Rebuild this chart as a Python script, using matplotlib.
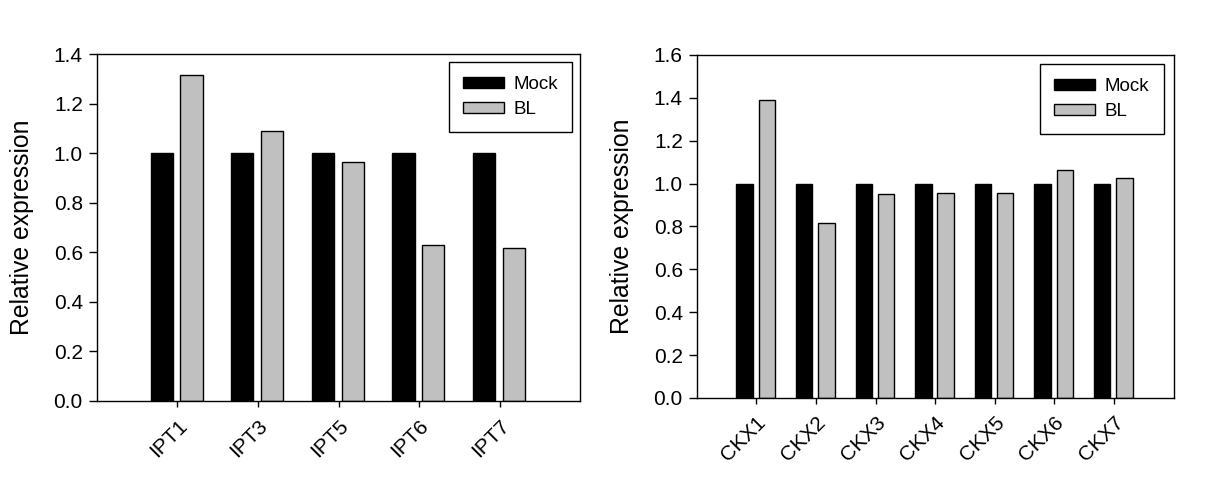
import numpy as np
import matplotlib.pyplot as plt

plt.rcParams['font.family'] = ['Liberation Sans', 'DejaVu Sans']

ipt_genes = ['IPT1', 'IPT3', 'IPT5', 'IPT6', 'IPT7']
ipt_mock = [1.0, 1.0, 1.0, 1.0, 1.0]
ipt_bl = [1.315, 1.088, 0.963, 0.629, 0.617]

ckx_genes = ['CKX1', 'CKX2', 'CKX3', 'CKX4', 'CKX5', 'CKX6', 'CKX7']
ckx_mock = [1.0, 1.0, 1.0, 1.0, 1.0, 1.0, 1.0]
ckx_bl = [1.39, 0.815, 0.95, 0.958, 0.958, 1.062, 1.026]


def draw_panel(ax, genes, mock, bl, ymax, legend_off):
    x = np.arange(len(genes))
    w = 0.275
    ax.bar(x - 0.195, mock, w, color='black', edgecolor='black',
           linewidth=1, label='Mock')
    ax.bar(x + 0.175, bl, w, color='#c0c0c0', edgecolor='black',
           linewidth=1, label='BL')
    ax.set_xlim(-1, len(genes))
    ax.set_ylim(0, ymax)
    ticks = np.arange(0, ymax + 0.01, 0.2)
    ax.set_yticks(ticks)
    ax.set_yticklabels(['%.1f' % v for v in ticks])
    ax.set_xticks(x)
    ax.set_xticklabels(genes, rotation=45, ha='right', va='top',
                       rotation_mode='anchor')
    ax.tick_params(axis='y', direction='out', length=6, width=1,
                   labelsize=15, pad=4)
    ax.tick_params(axis='x', direction='out', length=4, width=1,
                   labelsize=15, pad=7)
    for s in ax.spines.values():
        s.set_linewidth(1)
        s.set_color('black')
    ax.set_ylabel('Relative expression', fontsize=17.8, labelpad=14)
    leg = ax.legend(loc='upper right', bbox_to_anchor=legend_off,
                    borderaxespad=0, fontsize=13.5, fancybox=False,
                    framealpha=1, edgecolor='black', handlelength=2.2,
                    handleheight=0.55, borderpad=0.75, labelspacing=0.42,
                    handletextpad=0.5)
    leg.get_frame().set_linewidth(1)


fig = plt.figure(figsize=(12.21, 4.87), dpi=100)
ax1 = fig.add_axes([0.0792, 0.1766, 0.3962, 0.7125])
ax2 = fig.add_axes([0.5706, 0.1828, 0.3905, 0.7043])

draw_panel(ax1, ipt_genes, ipt_mock, ipt_bl, 1.4,
           (1 - 8 / 484, 1 - 8 / 347))
draw_panel(ax2, ckx_genes, ckx_mock, ckx_bl, 1.6,
           (1 - 10 / 477, 1 - 9 / 343))

fig.savefig('out.png', dpi=100)
